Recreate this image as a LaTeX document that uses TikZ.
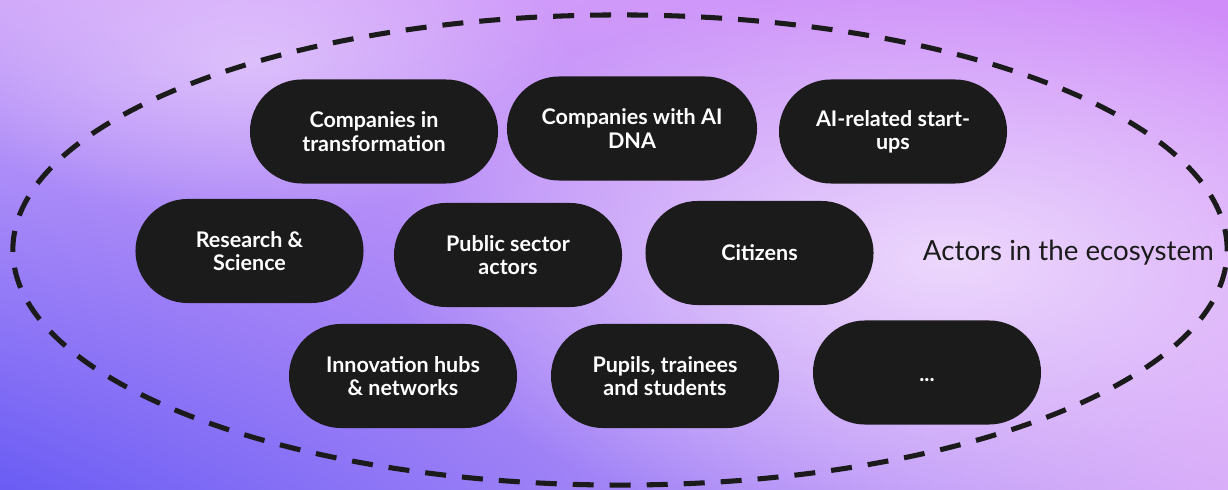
\documentclass[tikz,border=0pt]{standalone}
\usepackage{fontspec}
\setmainfont{Lato}
\usetikzlibrary{shapes.misc,fadings,shadings}
\definecolor{pillgray}{HTML}{1B1B1B}
\definecolor{bgul}{HTML}{CFA6FA}
\definecolor{bgur}{HTML}{D08CF9}
\definecolor{bgll}{HTML}{6A5CF4}
\definecolor{bglr}{HTML}{D9ACF9}
\definecolor{glowlav}{HTML}{EDD8FD}
\tikzfading[name=glow, inner color=transparent!0, outer color=transparent!100]
\tikzset{
	actor/.style={rounded rectangle, fill=pillgray, text=white, font=\bfseries\fontsize{15.3}{16.6}\selectfont,
		align=center, minimum width=5.7cm, minimum height=2.6cm, inner sep=0pt},
}

\begin{document}
\begin{tikzpicture}[x=0.025cm,y=-0.025cm]
		\useasboundingbox (0,0) rectangle (1228,490);
		\shade[upper left=bgul,upper right=bgur,lower left=bgll,lower right=bglr] (0,0) rectangle (1228,490);
		\fill[glowlav,path fading=glow] (950,260) ellipse (14cm and 7cm);
		\fill[glowlav,path fading=glow,fill opacity=0.6] (250,60) ellipse (8cm and 4cm);

		\draw[line width=3.6pt,pillgray,dash pattern=on 0.525cm off 0.4cm] (620,250) ellipse (15.175cm and 5.875cm);

		\node[actor,minimum width=6.2cm] (transf) at (374,131.5) {Companies in\\transformation};
		\node[actor,minimum width=6.25cm] (aidna) at (632,128.5) {Companies with AI\\DNA};
		\node[actor] (startups) at (893,131.5) {AI-related start-\\ups};

		\node[actor] (research) at (249.5,251) {Research \&\\Science};
		\node[actor] (public) at (508,255) {Public sector\\actors};
		\node[actor] (citizens) at (759.5,253) {Citizens};

		\node[actor] (hubs) at (403,376) {Innovation hubs\\\& networks};
		\node[actor] (pupils) at (665,376) {Pupils, trainees\\and students};
		\node[actor,text height=13.5pt,text depth=0pt] (more) at (927,372.5) {...};

		\node[anchor=west,font=\fontsize{19.7}{22}\selectfont,text=pillgray] (ecolabel) at (918,253) {Actors in the ecosystem};
	\end{tikzpicture}
\end{document}
